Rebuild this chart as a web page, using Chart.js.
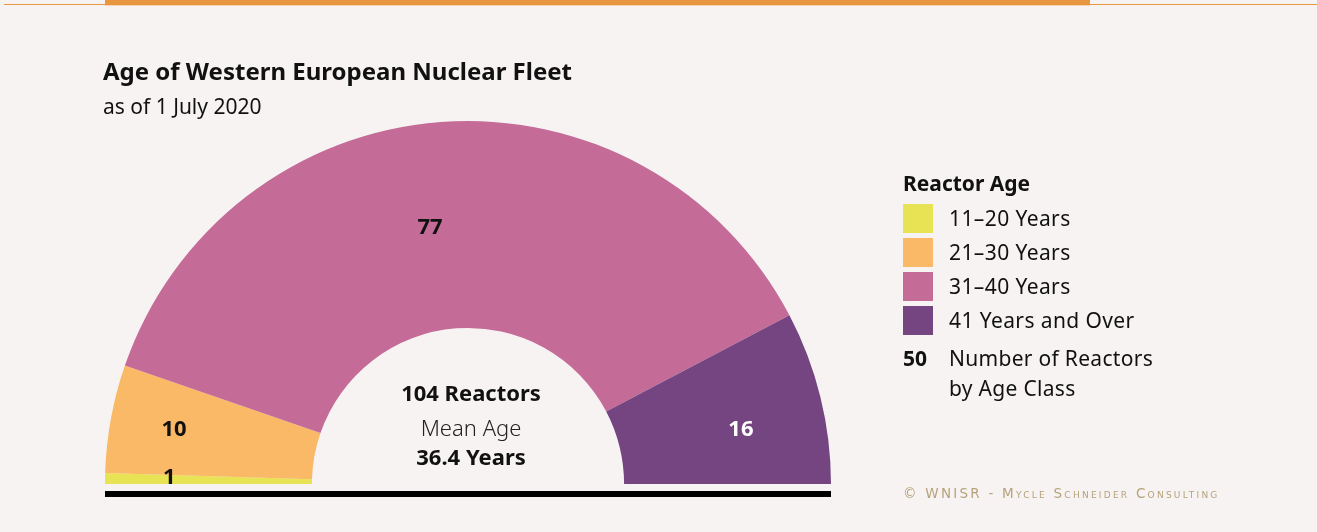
<!DOCTYPE html>
<html>
<head>
<meta charset="utf-8">
<script src="https://cdn.jsdelivr.net/npm/chart.js@4.4.1/dist/chart.umd.min.js"></script>
<style>
  html, body { margin: 0; padding: 0; }
  body { width: 1317px; height: 532px; background: #f7f3f2; position: relative; overflow: hidden;
         font-family: "Noto Sans", sans-serif; color: #111; }
  .rule-thin { position: absolute; left: 4px; top: 4px; width: 1313px; height: 1px; background: #e8963f; }
  .rule-bar { position: absolute; left: 105px; top: 0; width: 985px; height: 5px; background: #e8963f;
              box-shadow: 0 1px 0 #f4d3ae; }
  #wrap { position: absolute; left: 0; top: 0; width: 1317px; height: 532px; }
  .title { position: absolute; left: 103px; top: 54px; font-size: 24px; font-weight: 700; white-space: nowrap; }
  .subtitle { position: absolute; left: 103px; top: 92px; font-size: 21px; white-space: nowrap; }
  .legend { position: absolute; left: 903px; top: 169px; }
  .legend .head { font-size: 21px; font-weight: 700; height: 31px; line-height: 28px; white-space: nowrap; }
  .legend .row { position: relative; height: 34px; }
  .legend .sw { position: absolute; left: 0; top: 4px; width: 30px; height: 29px; }
  .legend .txt { position: absolute; left: 46px; top: 2px; font-size: 21px; letter-spacing: 0.4px; line-height: 32px; white-space: nowrap; }
  .legend .num { position: absolute; left: 0; top: 0; font-size: 21px; font-weight: 700; line-height: 30px; }
  .legend .multi { position: absolute; left: 46px; top: 0; font-size: 21px; letter-spacing: 0.3px; line-height: 30px; white-space: nowrap; }
  .credit { position: absolute; left: 903px; top: 485px; font-family: "DejaVu Sans", sans-serif; font-size: 13.5px;
            font-variant: small-caps; letter-spacing: 2.25px; color: #b6a37c; white-space: nowrap; }
</style>
</head>
<body>
<div class="rule-thin"></div>
<div class="rule-bar"></div>
<div id="wrap"><canvas id="chart" width="1317" height="532"></canvas></div>
<div class="title">Age of Western European Nuclear Fleet</div>
<div class="subtitle">as of 1 July 2020</div>
<div class="legend" id="legend"></div>
<div class="credit">© WNISR - Mycle Schneider Consulting</div>

<script>
// Reactor counts by age class
const ageClasses = ['11–20 Years', '21–30 Years', '31–40 Years', '41 Years and Over'];
const reactorCounts = [1, 10, 77, 16];
const classColors = ['#e8e355', '#f9b966', '#c46b98', '#744581'];
const labelColors = ['#111111', '#111111', '#111111', '#ffffff'];
// radial fraction through the ring and angular nudge (degrees) for each count label
const labelRadial = [0.69, 0.69, 0.50, 0.59];
const labelNudge = [0.4, 0.0, -4.1, 2.7];

const totalReactors = reactorCounts.reduce((a, b) => a + b, 0);
const meanAge = 36.4;

// legend
const legend = document.getElementById('legend');
let html = '<div class="head">Reactor Age</div>';
ageClasses.forEach((name, i) => {
  html += '<div class="row"><div class="sw" style="background:' + classColors[i] + '"></div>' +
          '<div class="txt">' + name + '</div></div>';
});
html += '<div class="row" style="height:60px;margin-top:7px"><div class="num">50</div>' +
        '<div class="multi">Number of Reactors<br>by Age Class</div></div>';
legend.innerHTML = html;

const FONT = '"Noto Sans", sans-serif';

// count labels on each ring segment, centre summary and the baseline rule
const annotate = {
  id: 'annotate',
  afterDatasetsDraw(chart) {
    const ctx = chart.ctx;
    const meta = chart.getDatasetMeta(0);
    const area = chart.chartArea;
    ctx.save();
    // baseline rule under the half ring
    ctx.fillStyle = '#000';
    ctx.fillRect(area.left, area.bottom + 7, area.right - area.left, 6);
    ctx.textAlign = 'center';
    ctx.textBaseline = 'middle';
    meta.data.forEach((arc, i) => {
      const p = arc.getProps(['x', 'y', 'startAngle', 'endAngle', 'innerRadius', 'outerRadius'], true);
      const a = (p.startAngle + p.endAngle) / 2 + labelNudge[i] * Math.PI / 180;
      const r = p.innerRadius + (p.outerRadius - p.innerRadius) * labelRadial[i];
      ctx.font = '700 22px ' + FONT;
      ctx.fillStyle = labelColors[i];
      ctx.fillText(String(reactorCounts[i]), p.x + r * Math.cos(a), p.y + r * Math.sin(a));
    });
    const c = meta.data[0];
    ctx.fillStyle = '#111';
    ctx.font = '700 22px ' + FONT;
    ctx.fillText(totalReactors + ' Reactors', c.x + 3, c.y - 89);
    ctx.font = '300 22px ' + FONT;
    ctx.fillStyle = '#222';
    ctx.fillText('Mean Age', c.x + 3, c.y - 54);
    ctx.font = '700 22px ' + FONT;
    ctx.fillStyle = '#111';
    ctx.fillText(meanAge.toFixed(1) + ' Years', c.x + 3, c.y - 25);
    ctx.restore();
  }
};

new Chart(document.getElementById('chart'), {
  type: 'doughnut',
  data: {
    labels: ageClasses,
    datasets: [{
      data: reactorCounts,
      backgroundColor: classColors,
      borderWidth: 0
    }]
  },
  options: {
    responsive: false,
    animation: false,
    rotation: -90,
    circumference: 180,
    cutout: '43%',
    layout: { padding: { left: 105, right: 486, top: 121, bottom: 48 } },
    plugins: { legend: { display: false }, tooltip: { enabled: false } }
  },
  plugins: [annotate]
});
</script>
</body>
</html>
